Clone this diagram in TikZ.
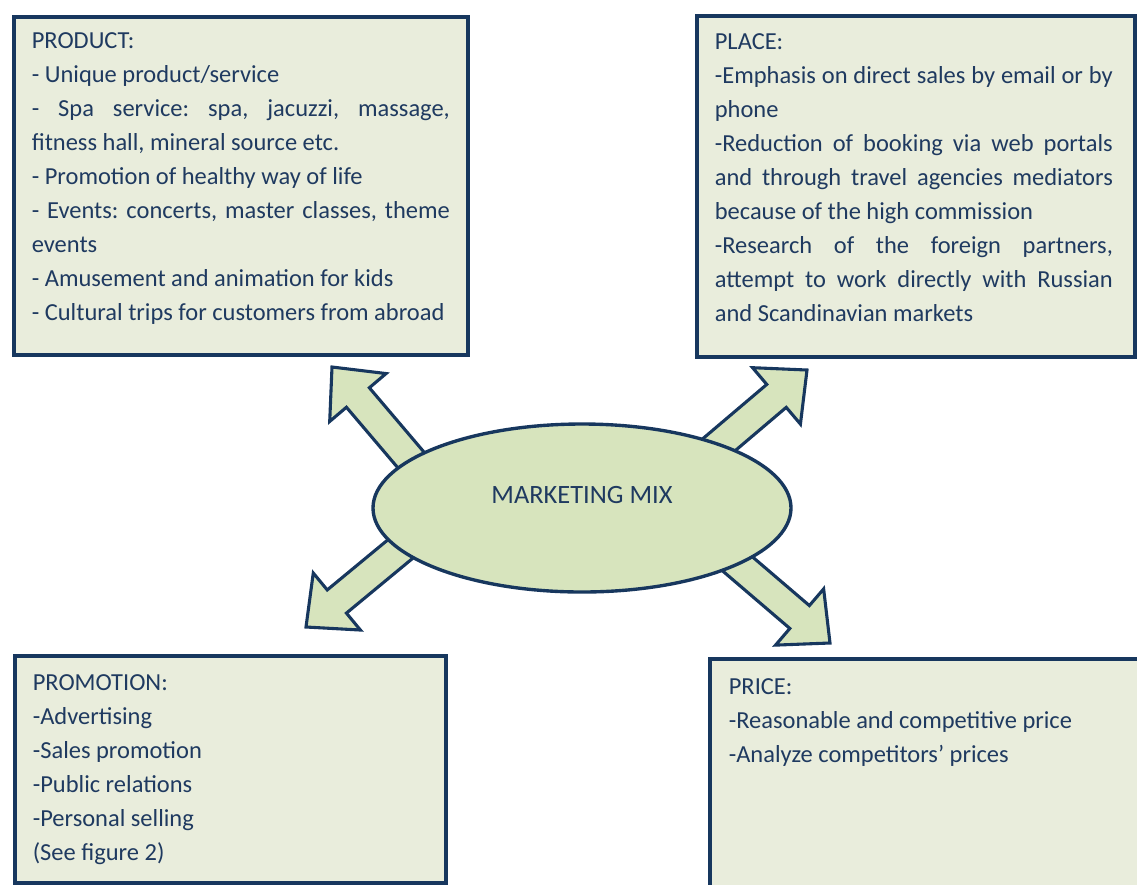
\documentclass[tikz,border=0pt]{standalone}
\usepackage{fontspec}
\setmainfont{Carlito}
\usetikzlibrary{calc,shapes.geometric,backgrounds}

\newdimen\pxu \pxu=0.025cm
\hyphenpenalty=10000
\tolerance=9999
\frenchspacing

\definecolor{mixnavy}{HTML}{17375E}
\definecolor{mixtext}{HTML}{1F3A60}
\definecolor{boxfill}{HTML}{E9EDDC}
\definecolor{mixfill}{HTML}{D7E4BD}

\tikzset{
  mixbox/.style={rectangle, draw=mixnavy, line width=2.6pt, fill=boxfill,
    anchor=north west, inner xsep=18\pxu, text=mixtext,
    font=\fontsize{17.4}{24.2}\selectfont},
  mixellipse/.style={ellipse, draw=mixnavy, line width=2.4pt, fill=mixfill,
    minimum width=418\pxu, minimum height=168\pxu, inner sep=0pt, text=mixtext,
    font=\fontsize{18.8}{20}\selectfont, text height=12pt, text depth=19pt},
  mixarrow/.style={draw=mixnavy, line width=2.2pt, fill=mixfill, line join=miter}
}

% block arrow: #1 name, #2 start, #3 tip
\newcommand\mixarrow[3]{%
  \coordinate (#1neck) at ($(#3)!28.45pt!(#2)$);
  \draw[mixarrow] ($(#2)!10.7pt!90:(#3)$) -- ($(#1neck)!10.7pt!90:(#3)$)
    -- ($(#1neck)!26.3pt!90:(#3)$) -- (#3) -- ($(#1neck)!26.3pt!-90:(#3)$)
    -- ($(#1neck)!10.7pt!-90:(#3)$) -- ($(#2)!10.7pt!-90:(#3)$) -- cycle;}

\begin{document}
\begin{tikzpicture}[x=0.025cm, y=-0.025cm]
  \useasboundingbox (0,0) rectangle (1137,884);
  \clip (0,0) rectangle (1137,884);

  % the four boxes
  \node[mixbox, inner ysep=16\pxu] (product) at (12,15) {\parbox[t][306\pxu][t]{418\pxu}{%
    PRODUCT:\par
    - Unique product/service\par
    - Spa service: spa, jacuzzi, massage,\linebreak fitness hall, mineral source etc.\par
    - Promotion of healthy way of life\par
    - Events: concerts, master classes, theme\linebreak events\par
    - Amusement and animation for kids\par
    - Cultural trips for customers from abroad}};
  \node[mixbox, inner ysep=18\pxu] (place) at (695,14) {\parbox[t][305\pxu][t]{402\pxu}{\rightskip=4\pxu
    PLACE:\par
    -Emphasis on direct sales by email or by\linebreak phone\par
    -Reduction of booking via web portals\linebreak and through travel agencies mediators\linebreak because of the high commission\par
    -Research of the foreign partners,\linebreak attempt to work directly with Russian\linebreak and Scandinavian markets}};
  \node[mixbox, inner ysep=19\pxu] (promotion) at (13,654) {\parbox[t][189\pxu][t]{395\pxu}{\raggedright
    PROMOTION:\par
    -Advertising\par
    -Sales promotion\par
    -Public relations\par
    -Personal selling\par
    (See figure 2)}};
  \node[mixbox, inner ysep=20\pxu, inner xsep=19\pxu] (price) at (708,657) {\parbox[t][200\pxu][t]{402\pxu}{\raggedright
    PRICE:\par
    -Reasonable and competitive price\par
    -Analyze competitors’ prices}};

  % centre
  \node[mixellipse] (mix) at (582,508) {MARKETING MIX};

  \coordinate (tltip) at (332,367);
  \coordinate (trtip) at (807,370);
  \coordinate (bltip) at (306,627);
  \coordinate (brtip) at (830,643);
  \coordinate (tlbase) at ($(tltip)!1.3!(mix.164)$);
  \coordinate (trbase) at ($(trtip)!1.3!(mix.25.5)$);
  \coordinate (blbase) at ($(bltip)!1.3!(mix.193.7)$);
  \coordinate (brbase) at ($(brtip)!1.3!(mix.340.5)$);

  \begin{scope}[on background layer]
    \mixarrow{tl}{tlbase}{tltip}
    \mixarrow{tr}{trbase}{trtip}
    \mixarrow{bl}{blbase}{bltip}
    \mixarrow{br}{brbase}{brtip}
  \end{scope}
\end{tikzpicture}
\end{document}
